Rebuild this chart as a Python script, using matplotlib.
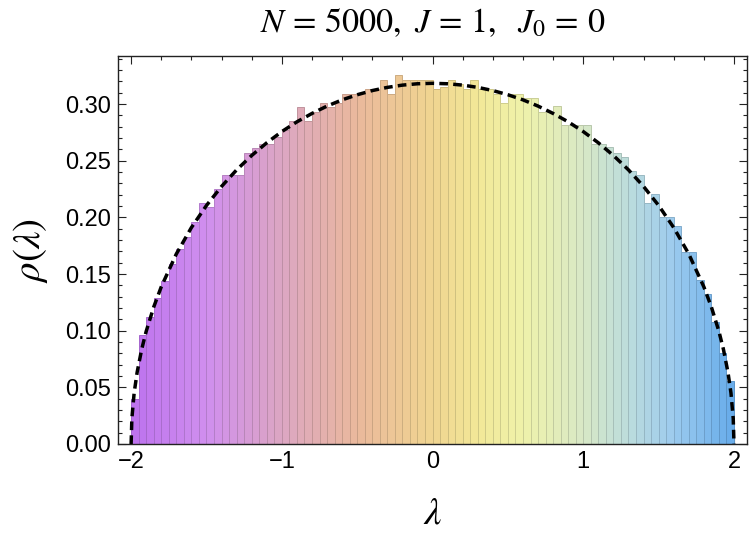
import numpy as np
import matplotlib
matplotlib.use("Agg")
import matplotlib.pyplot as plt
from matplotlib.colors import LinearSegmentedColormap, to_rgb
from matplotlib.ticker import MultipleLocator

# ---- data ----
bin_edges_start = -2.0
bin_width = 0.05
density = [
    0.040, 0.0965, 0.112, 0.1285, 0.144, 0.159, 0.172, 0.183, 0.196, 0.213,
    0.209, 0.2247, 0.237, 0.237, 0.237, 0.257, 0.261, 0.265, 0.265, 0.271,
    0.277, 0.285, 0.297, 0.285, 0.293, 0.301, 0.297, 0.301, 0.309, 0.309,
    0.310, 0.313, 0.313, 0.321, 0.309, 0.3256, 0.321, 0.321, 0.321, 0.321,
    0.313, 0.315, 0.321, 0.318, 0.313, 0.321, 0.313, 0.313, 0.309, 0.301,
    0.309, 0.309, 0.305, 0.305, 0.293, 0.293, 0.298, 0.2815, 0.2815, 0.2815,
    0.2815, 0.265, 0.265, 0.262, 0.257, 0.253, 0.241, 0.237, 0.213, 0.221,
    0.2006, 0.2006, 0.1926, 0.169, 0.169, 0.1447, 0.132, 0.108, 0.0806, 0.0559,
]

curve_lambda = [-2.0, -1.995, -1.98, -1.96, -1.93, -1.9, -1.85, -1.8, -1.7, -1.6,
                -1.5, -1.4, -1.3, -1.2, -1.1, -1.0, -0.9, -0.8, -0.7, -0.6,
                -0.5, -0.4, -0.3, -0.2, -0.1, 0.0, 0.1, 0.2, 0.3, 0.4,
                0.5, 0.6, 0.7, 0.8, 0.9, 1.0, 1.1, 1.2, 1.3, 1.4,
                1.5, 1.6, 1.7, 1.8, 1.85, 1.9, 1.93, 1.96, 1.98, 1.995, 2.0]
curve_rho = [0.0, 0.0225, 0.0449, 0.0633, 0.0835, 0.0994, 0.1209, 0.1387, 0.1677, 0.1910,
             0.2105, 0.2273, 0.2419, 0.2546, 0.2658, 0.2757, 0.2843, 0.2917, 0.2982, 0.3037,
             0.3082, 0.3119, 0.3147, 0.3167, 0.3179, 0.3183, 0.3179, 0.3167, 0.3147, 0.3119,
             0.3082, 0.3037, 0.2982, 0.2917, 0.2843, 0.2757, 0.2658, 0.2546, 0.2419, 0.2273,
             0.2105, 0.1910, 0.1677, 0.1387, 0.1209, 0.0994, 0.0835, 0.0633, 0.0449, 0.0225, 0.0]

x_ticks = [-2, -1, 0, 1, 2]
x_tick_labels = ["\u22122", "\u22121", "0", "1", "2"]
y_ticks = [0.00, 0.05, 0.10, 0.15, 0.20, 0.25, 0.30]
y_tick_labels = ["0.00", "0.05", "0.10", "0.15", "0.20", "0.25", "0.30"]
title_text = r"$N\,=\,5000,\ J\,=\,1,\ \ J_0\,=\,0$"

# ---- style ----
plt.rcParams['mathtext.fontset'] = 'stix'
plt.rcParams['font.family'] = ['Liberation Sans', 'DejaVu Sans']

fig = plt.figure(figsize=(7.5, 5.46), dpi=100)
ax = fig.add_axes([118.3 / 750, 1 - 444 / 546, (746.5 - 118.3) / 750, (444 - 56) / 546])

anchors = [
    (0.00, "#bd72ee"), (0.125, "#d08fee"), (0.25, "#dca6c2"), (0.375, "#eab99c"),
    (0.50, "#f0d590"), (0.575, "#f2e898"), (0.65, "#eff2aa"), (0.75, "#d8e8c6"),
    (0.825, "#bcdcdc"), (0.90, "#9ccbee"), (1.00, "#68acea"),
]
cmap = LinearSegmentedColormap.from_list("grad", anchors)

n = len(density)
lefts = bin_edges_start + bin_width * np.arange(n)
centers = lefts + bin_width / 2
for c, h in zip(centers, density):
    t = (c + 2.0) / 4.0
    fc = np.array(to_rgb(cmap(t)))
    ec = fc * 0.86
    ax.bar(c, h, width=bin_width, color=fc, edgecolor=ec, linewidth=0.7, zorder=2)

ax.plot(curve_lambda, curve_rho, color="black", lw=2.5, ls=(0, (2.5, 1.5)), zorder=3,
        dash_capstyle="butt")

ax.set_xlim(-2.085, 2.083)
ax.set_ylim(0, 0.3424)

ax.set_xticks(x_ticks)
ax.set_xticklabels(x_tick_labels)
ax.set_yticks(y_ticks)
ax.set_yticklabels(y_tick_labels)
ax.xaxis.set_minor_locator(MultipleLocator(0.2))
ax.yaxis.set_minor_locator(MultipleLocator(0.01))
ax.tick_params(which="both", direction="in", top=True, right=True, width=0.8,
               color="#222222")
ax.tick_params(which="major", length=5.5, labelsize=17, pad=5)
ax.tick_params(which="minor", length=3)
for s in ax.spines.values():
    s.set_linewidth(1.0)
    s.set_color("#222222")

ax.set_xlabel(r"$\lambda$", fontsize=28, labelpad=16)
ax.set_ylabel(r"$\rho(\lambda)$", fontsize=28, labelpad=11)
ax.set_title(title_text, fontsize=24.5, pad=17)

fig.savefig("out.png", dpi=100)
